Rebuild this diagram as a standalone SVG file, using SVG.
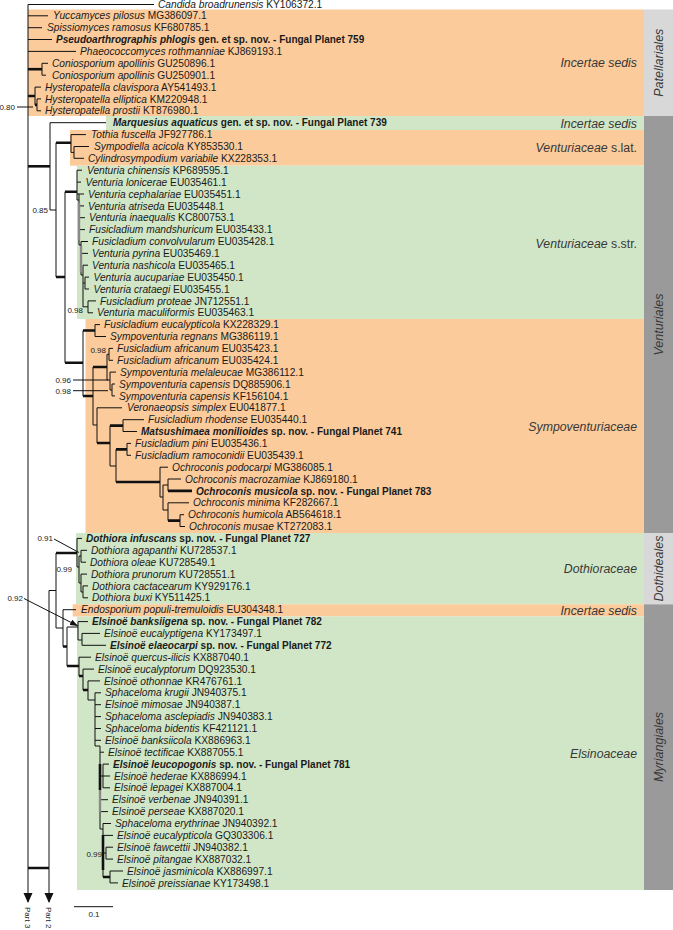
<svg xmlns="http://www.w3.org/2000/svg" width="673" height="930" viewBox="0 0 673 930">
<defs>
<style>
.t{font-family:"Liberation Sans",Arial,sans-serif;font-size:10.2px;fill:#1a1a1a}
.b{font-weight:bold;font-size:10px}
.i{font-style:italic}
.cl{font-family:"Liberation Sans",Arial,sans-serif;font-size:12.3px;fill:#383838;text-anchor:end}
.ol{font-family:"Liberation Sans",Arial,sans-serif;font-size:12.5px;font-style:italic;fill:#383838;text-anchor:middle}
.sv{font-family:"Liberation Sans",Arial,sans-serif;font-size:8px;fill:#222}
.br{fill:none;stroke:#111;stroke-width:1}
.th{fill:none;stroke:#111;stroke-width:2.6}
.gr{fill:none;stroke:#8a8a8a;stroke-width:2.4}
.or{fill:#FBCB9B}
.gn{fill:#D1E6C6}
.lg{fill:#D8D8D8}
.dg{fill:#9A9A9A}
</style>
<marker id="ah" markerUnits="userSpaceOnUse" markerWidth="8" markerHeight="6" refX="8" refY="3" orient="auto">
<path d="M0,0 L8,3 L0,6 z" fill="#111"/>
</marker>
</defs>
<rect width="673" height="930" fill="#fff"/>

<g id="bands">
<rect class="or" x="28" y="9.5" width="616" height="106.5"/>
<rect class="gn" x="106" y="116" width="538" height="14"/>
<rect class="or" x="70" y="130" width="574" height="35.7"/>
<rect class="gn" x="77" y="165.7" width="567" height="153.3"/>
<rect class="or" x="85.5" y="319" width="558.5" height="214"/>
<rect class="gn" x="76" y="533" width="568" height="71.3"/>
<rect class="or" x="72.7" y="604.3" width="571.3" height="12.2"/>
<rect class="gn" x="77" y="616.5" width="567" height="273.5"/>
<rect class="lg" x="644" y="9.5" width="29" height="106.5"/>
<rect class="dg" x="644" y="116" width="29" height="417"/>
<rect class="lg" x="644" y="533" width="29" height="71.3"/>
<rect class="dg" x="644" y="604.3" width="29" height="285.7"/>
</g>

<g id="clade-labels">
<text class="cl i" x="637" y="67">Incertae sedis</text>
<text class="cl i" x="637" y="127.5">Incertae sedis</text>
<text class="cl" x="637" y="152"><tspan class="i">Venturiaceae</tspan> s.lat.</text>
<text class="cl" x="637" y="247.5"><tspan class="i">Venturiaceae</tspan> s.str.</text>
<text class="cl i" x="637" y="431">Sympoventuriaceae</text>
<text class="cl i" x="637" y="572.5">Dothioraceae</text>
<text class="cl i" x="637" y="615">Incertae sedis</text>
<text class="cl i" x="637" y="757.5">Elsinoaceae</text>
</g>

<g id="order-labels">
<text class="ol" transform="translate(663,62.7) rotate(-90)">Patellariales</text>
<text class="ol" transform="translate(663,324.5) rotate(-90)">Venturiales</text>
<text class="ol" transform="translate(663,568.6) rotate(-90)">Dothideales</text>
<text class="ol" transform="translate(663,747) rotate(-90)">Myriangiales</text>
</g>

<g id="connectors">
<path class="br" d="M28,4.5 V902 M28,4.5 H154"/>
<path class="br" d="M28,15.8 H48 M28,27.7 H42 M28,39.5 H52 M28,51.4 H76"/>
<path class="th" d="M28,69.2 H42"/>
<path class="br" d="M48,63.3 H42 V75.2 H46"/>
<path class="th" d="M28,96 H35 M35,104.9 H37"/>
<path class="br" d="M41,87.1 H35 V104.9 M41,98.9 H37 V110.8 H41"/>
<path class="th" d="M28,166.3 H50"/>
<path class="br" d="M106,122.7 H50 V210 H56 M56,142.7 V277"/>
<path class="th" d="M56,142.7 H71 M56,277 H65"/>
<path class="br" d="M86,134.6 H71 V152.4 H74 M89,146.5 H74 V158.3 H84"/>
<path class="br" d="M65,191.7 V362.7"/>
<path class="th" d="M65,191.7 H77 M65,362.7 H83"/>
<path class="br" d="M82,170.2 H77 V200 H79 M81,182.1 H77 M84,194 H77 M79,194 V245 H81 M79,205.9 H84 M79,217.7 H85 M79,229.6 H85 M81,241.5 V275 H83 M81,241.5 H88 M81,253.4 H88 M83,265.2 H88 M83,265.2 V307 M83,283 H85 M85,277.1 V289 M85,277.1 H89 M85,289 H89 M83,306.8 H88 M96,300.9 H88 V312.8 H93"/>
<path class="gr" d="M79,203 V240 M81,246 V272"/>
<path class="br" d="M83,330.5 V396 M100,324.6 H95 V336.5 H106 M93,367 V425 M107,354.3 V380 M113,348.4 H109 V360.3 H113 M107,354.3 H109 M107,380 H110 M116,372.1 H110 V390 H112 M115,384 H112 V395.9 H115 M93,425 H97 M122,407.8 H97 V443 M110,425.6 V466 M144,419.7 H123 V431.5 H137 M110,466 H116 M116,449.4 V482 M131,443.4 H127 V455.3 H131"/>
<path class="th" d="M83,330.5 H95 M83,396 H93 M93,367 H107 M97,443 H110 M110,425.6 H123 M116,449.4 H127 M116,482 H160"/>
<path class="br" d="M168,467.2 H160 V497 H163 M163,485 V510 M163,485 H168 M181,479 H168 V490.9 M163,510 H168 M189,502.8 H168 V520.6 M184,514.7 H180 V526.5 H185"/>
<path class="th" d="M168,490.9 H192 M168,520.6 H180"/>
<path class="th" d="M28,868 H49 M56,553 H77"/>
<path class="br" d="M49,590.5 V902 M49,590.5 H56 M56,553 V628 M82,538.4 H77 V567 H79 M79,556 V583 M79,556 H81 M87,550.3 H81 V562.2 H86 M79,583 H81 M87,574.1 H81 V592 H83 M88,585.9 H83 V597.8 H88"/>
<path class="br" d="M56,628 H63 M63,609.7 V646.5 M76,609.7 H63 M67,627 V666 M67,627 H78 M88,621.6 H78 V640 H82 M100,633.4 H82 V645.3 H106 M91,657.2 H79 V676 M94,669.1 H83 V690 M100,680.9 H88 V700 H95 M95,692.8 V746 M95,692.8 H101 M95,704.7 H101 M95,716.6 H101 M95,728.5 H101 M95,740.3 H101 M95,746 H100 M100,746 V829 M104,752.2 H100 M100,776 H103 M109,764.1 H103 V787.8 H110 M103,776 H110 M100,799.7 H108 M100,811.6 H108 M100,829 H103 M103,823.5 V877 M103,823.5 H111 M103,835.4 H113 M103,853 H106 M113,847.2 H106 V859.1 H113 M123,871 H110 V882.9 H118"/>
<path class="th" d="M63,646.5 H67 M67,666 H79 M79,676 H83 M83,690 H88 M100,764 V790 M103,877 H110 M103,835 V870"/>
<path class="gr" d="M100,790 V812"/>
<path class="br" d="M17,107 H33 M73,380 H108 M73,390.7 H108 M54,539 L79,552.5 M24,598.5 L78,626" marker-end="url(#ah)"/>
<polygon points="23.5,893 32.5,893 28,903" fill="#111"/>
<polygon points="44.5,893 53.5,893 49,903" fill="#111"/>
<path class="br" d="M74,906.7 H113" stroke="#333"/>
</g>

<g id="support-values">
<text class="sv" x="15" y="110" text-anchor="end">0.80</text>
<text class="sv" x="48" y="213" text-anchor="end">0.85</text>
<text class="sv" x="83" y="313" text-anchor="end">0.98</text>
<text class="sv" x="106" y="353" text-anchor="end">0.98</text>
<text class="sv" x="71" y="383" text-anchor="end">0.96</text>
<text class="sv" x="71" y="393.5" text-anchor="end">0.98</text>
<text class="sv" x="53" y="540.5" text-anchor="end">0.91</text>
<text class="sv" x="72" y="572" text-anchor="end">0.99</text>
<text class="sv" x="23" y="600.5" text-anchor="end">0.92</text>
<text class="sv" x="102" y="857" text-anchor="end">0.99</text>
</g>

<g id="scale">
<text class="sv" x="94" y="917" text-anchor="middle" font-size="9.5">0.1</text>
<text class="sv" font-size="9.3" transform="translate(28,907) rotate(90)" y="3.3">Part 3</text>
<text class="sv" font-size="9.3" transform="translate(49,907) rotate(90)" y="3.3">Part 2</text>
</g>

<g id="taxa">
<g id="n0"><text class="t" x="158" y="8.1"><tspan class="i">Candida broadrunensis</tspan> KY106372.1</text></g>
<g id="n1"><text class="t" x="53" y="19.4"><tspan class="i">Yuccamyces pilosus</tspan> MG386097.1</text></g>
<g id="n2"><text class="t" x="47" y="31.3"><tspan class="i">Spissiomyces ramosus</tspan> KF680785.1</text></g>
<g id="n3"><text class="t b" x="56" y="43.1"><tspan class="i">Pseudoarthrographis phlogis</tspan> gen. et sp. nov. - Fungal Planet 759</text></g>
<g id="n4"><text class="t" x="80" y="55"><tspan class="i">Phaeococcomyces rothmanniae</tspan> KJ869193.1</text></g>
<g id="n5"><text class="t" x="52" y="66.9"><tspan class="i">Coniosporium apollinis</tspan> GU250896.1</text></g>
<g id="n6"><text class="t" x="52" y="78.8"><tspan class="i">Coniosporium apollinis</tspan> GU250901.1</text></g>
<g id="n7"><text class="t" x="45" y="90.7"><tspan class="i">Hysteropatella clavispora</tspan> AY541493.1</text></g>
<g id="n8"><text class="t" x="45" y="102.5"><tspan class="i">Hysteropatella elliptica</tspan> KM220948.1</text></g>
<g id="n9"><text class="t" x="45" y="114.4"><tspan class="i">Hysteropatella prostii</tspan> KT876980.1</text></g>
<g id="n10"><text class="t b" x="113" y="126.3"><tspan class="i">Marquesius aquaticus</tspan> gen. et sp. nov. - Fungal Planet 739</text></g>
<g id="n11"><text class="t" x="91" y="138.2"><tspan class="i">Tothia fuscella</tspan> JF927786.1</text></g>
<g id="n12"><text class="t" x="94" y="150.1"><tspan class="i">Sympodiella acicola</tspan> KY853530.1</text></g>
<g id="n13"><text class="t" x="88" y="161.9"><tspan class="i">Cylindrosympodium variabile</tspan> KX228353.1</text></g>
<g id="n14"><text class="t" x="87" y="173.8"><tspan class="i">Venturia chinensis</tspan> KP689595.1</text></g>
<g id="n15"><text class="t" x="85.5" y="185.7"><tspan class="i">Venturia lonicerae</tspan> EU035461.1</text></g>
<g id="n16"><text class="t" x="88" y="197.6"><tspan class="i">Venturia cephalariae</tspan> EU035451.1</text></g>
<g id="n17"><text class="t" x="88" y="209.5"><tspan class="i">Venturia atriseda</tspan> EU035448.1</text></g>
<g id="n18"><text class="t" x="89" y="221.3"><tspan class="i">Venturia inaequalis</tspan> KC800753.1</text></g>
<g id="n19"><text class="t" x="89" y="233.2"><tspan class="i">Fusicladium mandshuricum</tspan> EU035433.1</text></g>
<g id="n20"><text class="t" x="92" y="245.1"><tspan class="i">Fusicladium convolvularum</tspan> EU035428.1</text></g>
<g id="n21"><text class="t" x="92" y="257"><tspan class="i">Venturia pyrina</tspan> EU035469.1</text></g>
<g id="n22"><text class="t" x="92" y="268.8"><tspan class="i">Venturia nashicola</tspan> EU035465.1</text></g>
<g id="n23"><text class="t" x="93.5" y="280.7"><tspan class="i">Venturia aucupariae</tspan> EU035450.1</text></g>
<g id="n24"><text class="t" x="93.5" y="292.6"><tspan class="i">Venturia crataegi</tspan> EU035455.1</text></g>
<g id="n25"><text class="t" x="100" y="304.5"><tspan class="i">Fusicladium proteae</tspan> JN712551.1</text></g>
<g id="n26"><text class="t" x="97" y="316.4"><tspan class="i">Venturia maculiformis</tspan> EU035463.1</text></g>
<g id="n27"><text class="t" x="104" y="328.2"><tspan class="i">Fusicladium eucalypticola</tspan> KX228329.1</text></g>
<g id="n28"><text class="t" x="110" y="340.1"><tspan class="i">Sympoventuria regnans</tspan> MG386119.1</text></g>
<g id="n29"><text class="t" x="117" y="352"><tspan class="i">Fusicladium africanum</tspan> EU035423.1</text></g>
<g id="n30"><text class="t" x="117" y="363.9"><tspan class="i">Fusicladium africanum</tspan> EU035424.1</text></g>
<g id="n31"><text class="t" x="120" y="375.7"><tspan class="i">Sympoventuria melaleucae</tspan> MG386112.1</text></g>
<g id="n32"><text class="t" x="119" y="387.6"><tspan class="i">Sympoventuria capensis</tspan> DQ885906.1</text></g>
<g id="n33"><text class="t" x="119" y="399.5"><tspan class="i">Sympoventuria capensis</tspan> KF156104.1</text></g>
<g id="n34"><text class="t" x="127" y="411.4"><tspan class="i">Veronaeopsis simplex</tspan> EU041877.1</text></g>
<g id="n35"><text class="t" x="148" y="423.3"><tspan class="i">Fusicladium rhodense</tspan> EU035440.1</text></g>
<g id="n36"><text class="t b" x="141" y="435.1"><tspan class="i">Matsushimaea monilioides</tspan> sp. nov. - Fungal Planet 741</text></g>
<g id="n37"><text class="t" x="135" y="447"><tspan class="i">Fusicladium pini</tspan> EU035436.1</text></g>
<g id="n38"><text class="t" x="135" y="458.9"><tspan class="i">Fusicladium ramoconidii</tspan> EU035439.1</text></g>
<g id="n39"><text class="t" x="172" y="470.8"><tspan class="i">Ochroconis podocarpi</tspan> MG386085.1</text></g>
<g id="n40"><text class="t" x="185" y="482.6"><tspan class="i">Ochroconis macrozamiae</tspan> KJ869180.1</text></g>
<g id="n41"><text class="t b" x="196" y="494.5"><tspan class="i">Ochroconis musicola</tspan> sp. nov. - Fungal Planet 783</text></g>
<g id="n42"><text class="t" x="193" y="506.4"><tspan class="i">Ochroconis minima</tspan> KF282667.1</text></g>
<g id="n43"><text class="t" x="188" y="518.3"><tspan class="i">Ochroconis humicola</tspan> AB564618.1</text></g>
<g id="n44"><text class="t" x="189" y="530.1"><tspan class="i">Ochroconis musae</tspan> KT272083.1</text></g>
<g id="n45"><text class="t b" x="86" y="542"><tspan class="i">Dothiora infuscans</tspan> sp. nov. - Fungal Planet 727</text></g>
<g id="n46"><text class="t" x="91" y="553.9"><tspan class="i">Dothiora agapanthi</tspan> KU728537.1</text></g>
<g id="n47"><text class="t" x="90" y="565.8"><tspan class="i">Dothiora oleae</tspan> KU728549.1</text></g>
<g id="n48"><text class="t" x="91" y="577.7"><tspan class="i">Dothiora prunorum</tspan> KU728551.1</text></g>
<g id="n49"><text class="t" x="92" y="589.5"><tspan class="i">Dothiora cactacearum</tspan> KY929176.1</text></g>
<g id="n50"><text class="t" x="92" y="601.4"><tspan class="i">Dothiora buxi</tspan> KY511425.1</text></g>
<g id="n51"><text class="t" x="81" y="613.3"><tspan class="i">Endosporium populi-tremuloidis</tspan> EU304348.1</text></g>
<g id="n52"><text class="t b" x="92" y="625.2"><tspan class="i">Elsinoë banksiigena</tspan> sp. nov. - Fungal Planet 782</text></g>
<g id="n53"><text class="t" x="104" y="637"><tspan class="i">Elsinoë eucalyptigena</tspan> KY173497.1</text></g>
<g id="n54"><text class="t b" x="110" y="648.9"><tspan class="i">Elsinoë elaeocarpi</tspan> sp. nov. - Fungal Planet 772</text></g>
<g id="n55"><text class="t" x="95" y="660.8"><tspan class="i">Elsinoë quercus-ilicis</tspan> KX887040.1</text></g>
<g id="n56"><text class="t" x="98" y="672.7"><tspan class="i">Elsinoë eucalyptorum</tspan> DQ923530.1</text></g>
<g id="n57"><text class="t" x="104" y="684.5"><tspan class="i">Elsinoë othonnae</tspan> KR476761.1</text></g>
<g id="n58"><text class="t" x="105" y="696.4"><tspan class="i">Sphaceloma krugii</tspan> JN940375.1</text></g>
<g id="n59"><text class="t" x="105" y="708.3"><tspan class="i">Elsinoë mimosae</tspan> JN940387.1</text></g>
<g id="n60"><text class="t" x="105" y="720.2"><tspan class="i">Sphaceloma asclepiadis</tspan> JN940383.1</text></g>
<g id="n61"><text class="t" x="105" y="732.1"><tspan class="i">Sphaceloma bidentis</tspan> KF421121.1</text></g>
<g id="n62"><text class="t" x="105" y="743.9"><tspan class="i">Elsinoë banksiicola</tspan> KX886963.1</text></g>
<g id="n63"><text class="t" x="108" y="755.8"><tspan class="i">Elsinoë tectificae</tspan> KX887055.1</text></g>
<g id="n64"><text class="t b" x="113" y="767.7"><tspan class="i">Elsinoë leucopogonis</tspan> sp. nov. - Fungal Planet 781</text></g>
<g id="n65"><text class="t" x="114" y="779.6"><tspan class="i">Elsinoë hederae</tspan> KX886994.1</text></g>
<g id="n66"><text class="t" x="114" y="791.4"><tspan class="i">Elsinoë lepagei</tspan> KX887004.1</text></g>
<g id="n67"><text class="t" x="112" y="803.3"><tspan class="i">Elsinoë verbenae</tspan> JN940391.1</text></g>
<g id="n68"><text class="t" x="112" y="815.2"><tspan class="i">Elsinoë perseae</tspan> KX887020.1</text></g>
<g id="n69"><text class="t" x="115" y="827.1"><tspan class="i">Sphaceloma erythrinae</tspan> JN940392.1</text></g>
<g id="n70"><text class="t" x="117" y="838.9"><tspan class="i">Elsinoë eucalypticola</tspan> GQ303306.1</text></g>
<g id="n71"><text class="t" x="117" y="850.8"><tspan class="i">Elsinoë fawcettii</tspan> JN940382.1</text></g>
<g id="n72"><text class="t" x="117" y="862.7"><tspan class="i">Elsinoë pitangae</tspan> KX887032.1</text></g>
<g id="n73"><text class="t" x="127" y="874.6"><tspan class="i">Elsinoë jasminicola</tspan> KX886997.1</text></g>
<g id="n74"><text class="t" x="122" y="886.5"><tspan class="i">Elsinoë preissianae</tspan> KY173498.1</text></g>
</g>
</svg>
